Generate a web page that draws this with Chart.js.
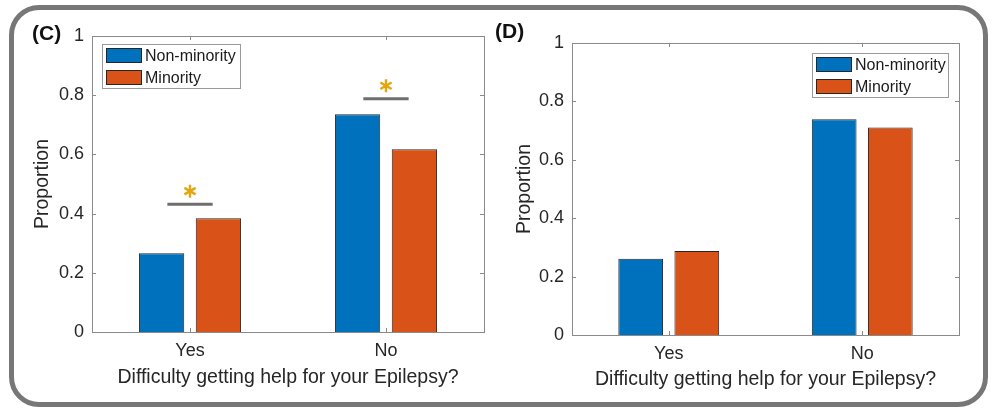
<!DOCTYPE html>
<html>
<head>
<meta charset="utf-8">
<script src="https://cdn.jsdelivr.net/npm/chart.js@4"></script>
<style>
  html, body { margin:0; padding:0; background:#fff; }
  #stage { position:relative; width:991px; height:408px; overflow:hidden; background:#fff; font-family:"Liberation Sans", Arial, sans-serif; }
  #frame { position:absolute; left:9px; top:5px; width:979px; height:402px; box-sizing:border-box; border:5px solid #777; border-radius:30px; pointer-events:none; }
  .wrap { position:absolute; top:0; height:408px; }
  .panel-label { position:absolute; font-weight:bold; font-size:21px; line-height:24px; color:#111; }
  .legend { position:absolute; box-sizing:border-box; border:1px solid #9a9a9a; background:#fff; }
  .legend .item { position:absolute; left:0; height:16px; white-space:nowrap; }
  .legend .sw { position:absolute; left:3px; top:0; width:36px; height:15px; box-sizing:border-box; border:1px solid #262626; }
  .legend .tx { position:absolute; left:42px; top:-2px; font-size:16px; line-height:19px; color:#1a1a1a; }
</style>
</head>
<body>
<div id="stage">
  <div class="wrap" style="left:0;width:495px;"><canvas id="chartC" width="495" height="408"></canvas></div>
  <div class="wrap" style="left:495px;width:496px;"><canvas id="chartD" width="496" height="408"></canvas></div>
  <div id="frame"></div>
</div>
<script>
// ---------------- data ----------------
const categories = ['Yes', 'No'];
const seriesNames = ['Non-minority', 'Minority'];
const nonMinorityC = [0.266, 0.736];
const minorityC    = [0.384, 0.617];
const nonMinorityD = [0.261, 0.739];
const minorityD    = [0.288, 0.711];
const yTickValues  = [0, 0.2, 0.4, 0.6, 0.8, 1];
const yTickLabels  = ['0', '0.2', '0.4', '0.6', '0.8', '1'];
const sigLevelsC   = [0.432, 0.788];   // significance bar heights (panel C)
const sigLevelsD   = [];               // none in panel D
const panelLabels  = ['(C)', '(D)'];
const xTitle = 'Difficulty getting help for your Epilepsy?';
const yTitle = 'Proportion';

// ---------------- styles ----------------
const BLUE = '#0072BD';
const ORANGE = '#D95319';
const EDGE = '#262626';
const AXIS = '#8a8a8a';
const TEXT = '#262626';
const FONT = '"Liberation Sans", Arial, sans-serif';

const boxPlugin = {
  id: 'matlabBox',
  afterDraw(chart) {
    const {ctx, chartArea: a, scales} = chart;
    ctx.save();
    ctx.strokeStyle = AXIS;
    ctx.lineWidth = 1;
    ctx.strokeRect(Math.round(a.left) + 0.5, Math.round(a.top) + 0.5,
                   Math.round(a.right - a.left), Math.round(a.bottom - a.top));
    // inward ticks
    const tl = 4;
    ctx.beginPath();
    yTickValues.forEach(v => {
      const y = Math.round(scales.y.getPixelForValue(v)) + 0.5;
      ctx.moveTo(a.left, y); ctx.lineTo(a.left + tl, y);
      ctx.moveTo(a.right, y); ctx.lineTo(a.right - tl, y);
    });
    categories.forEach((c, i) => {
      const x = Math.round(scales.x.getPixelForValue(i)) + 0.5;
      ctx.moveTo(x, a.bottom); ctx.lineTo(x, a.bottom - tl);
      ctx.moveTo(x, a.top); ctx.lineTo(x, a.top + tl);
    });
    ctx.stroke();
    ctx.restore();
  }
};

const sigPlugin = {
  id: 'sigMarks',
  afterDatasetsDraw(chart, args, opts) {
    const levels = opts.levels || [];
    if (!levels.length) return;
    const {ctx, scales} = chart;
    const meta = chart.getDatasetMeta(0);
    ctx.save();
    levels.forEach((lv, i) => {
      const xc = scales.x.getPixelForValue(i);
      const w = meta.data[i].width;
      const y = scales.y.getPixelForValue(lv);
      ctx.strokeStyle = '#6e6e6e';
      ctx.lineWidth = 3;
      ctx.beginPath();
      ctx.moveTo(xc - w / 2, y); ctx.lineTo(xc + w / 2, y);
      ctx.stroke();
      // asterisk
      const sy = y - 13, r = 6.5;
      ctx.strokeStyle = '#E3A60F';
      ctx.lineWidth = 2.4;
      ctx.beginPath();
      for (let k = 0; k < 3; k++) {
        const ang = Math.PI / 2 + k * Math.PI / 3;
        ctx.moveTo(xc + r * Math.cos(ang), sy + r * Math.sin(ang));
        ctx.lineTo(xc - r * Math.cos(ang), sy - r * Math.sin(ang));
      }
      ctx.stroke();
    });
    ctx.restore();
  }
};

function makeChart(id, nonMin, min, sig, geom) {
  return new Chart(document.getElementById(id), {
    type: 'bar',
    data: {
      labels: categories,
      datasets: [
        { label: seriesNames[0], data: nonMin, backgroundColor: BLUE, borderColor: EDGE, borderWidth: 1 },
        { label: seriesNames[1], data: min, backgroundColor: ORANGE, borderColor: EDGE, borderWidth: 1 }
      ]
    },
    options: {
      responsive: false,
      animation: false,
      events: [],
      categoryPercentage: 0.58,
      barPercentage: 0.797,
      layout: { padding: { left: 0, top: geom.top, right: geom.right, bottom: 0 } },
      plugins: {
        legend: { display: false },
        tooltip: { enabled: false },
        sigMarks: { levels: sig }
      },
      scales: {
        x: {
          offset: true,
          grid: { display: false, drawTicks: false },
          border: { display: false },
          ticks: { color: TEXT, font: { family: FONT, size: 18 }, padding: 8, maxRotation: 0 },
          title: { display: true, text: xTitle, color: TEXT, font: { family: FONT, size: 19.5 }, padding: { top: 0, bottom: geom.xTitlePad } },
          afterFit(s) { s.height = geom.xHeight; }
        },
        y: {
          min: 0, max: 1,
          afterBuildTicks(s) { s.ticks = yTickValues.map(v => ({ value: v })); },
          grid: { display: false, drawTicks: false },
          border: { display: false },
          ticks: {
            color: TEXT, font: { family: FONT, size: 18 }, padding: 8,
            callback: (v, i) => yTickLabels[yTickValues.indexOf(v)] ?? String(v)
          },
          title: { display: true, text: yTitle, color: TEXT, font: { family: FONT, size: 19.5 }, padding: { top: geom.yTitlePad, bottom: 0 } },
          afterFit(s) { s.width = geom.yWidth; }
        }
      }
    },
    plugins: [boxPlugin, sigPlugin]
  });
}

makeChart('chartC', nonMinorityC, minorityC, sigLevelsC,
  { top: 36, right: 11, xHeight: 76, yWidth: 92, xTitlePad: 18.5, yTitlePad: 31 });
makeChart('chartD', nonMinorityD, minorityD, sigLevelsD,
  { top: 43, right: 32, xHeight: 73, yWidth: 77, xTitlePad: 16.3, yTitlePad: 18 });

// ---------------- panel labels & legends ----------------
const stage = document.getElementById('stage');
function addLabel(text, left, top) {
  const d = document.createElement('div');
  d.className = 'panel-label';
  d.textContent = text;
  d.style.left = left + 'px';
  d.style.top = top + 'px';
  stage.appendChild(d);
}
addLabel(panelLabels[0], 32, 21);
addLabel(panelLabels[1], 495, 19);

function addLegend(left, top, width, height) {
  const box = document.createElement('div');
  box.className = 'legend';
  Object.assign(box.style, { left: left + 'px', top: top + 'px', width: width + 'px', height: height + 'px' });
  const colors = [BLUE, ORANGE];
  seriesNames.forEach((name, i) => {
    const it = document.createElement('div');
    it.className = 'item';
    it.style.top = (3 + i * 21.5) + 'px';
    const sw = document.createElement('div');
    sw.className = 'sw';
    sw.style.background = colors[i];
    const tx = document.createElement('div');
    tx.className = 'tx';
    tx.textContent = name;
    it.appendChild(sw); it.appendChild(tx);
    box.appendChild(it);
  });
  stage.appendChild(box);
}
addLegend(102, 44, 139, 45);
addLegend(812, 53, 137, 45);
</script>
</body>
</html>
